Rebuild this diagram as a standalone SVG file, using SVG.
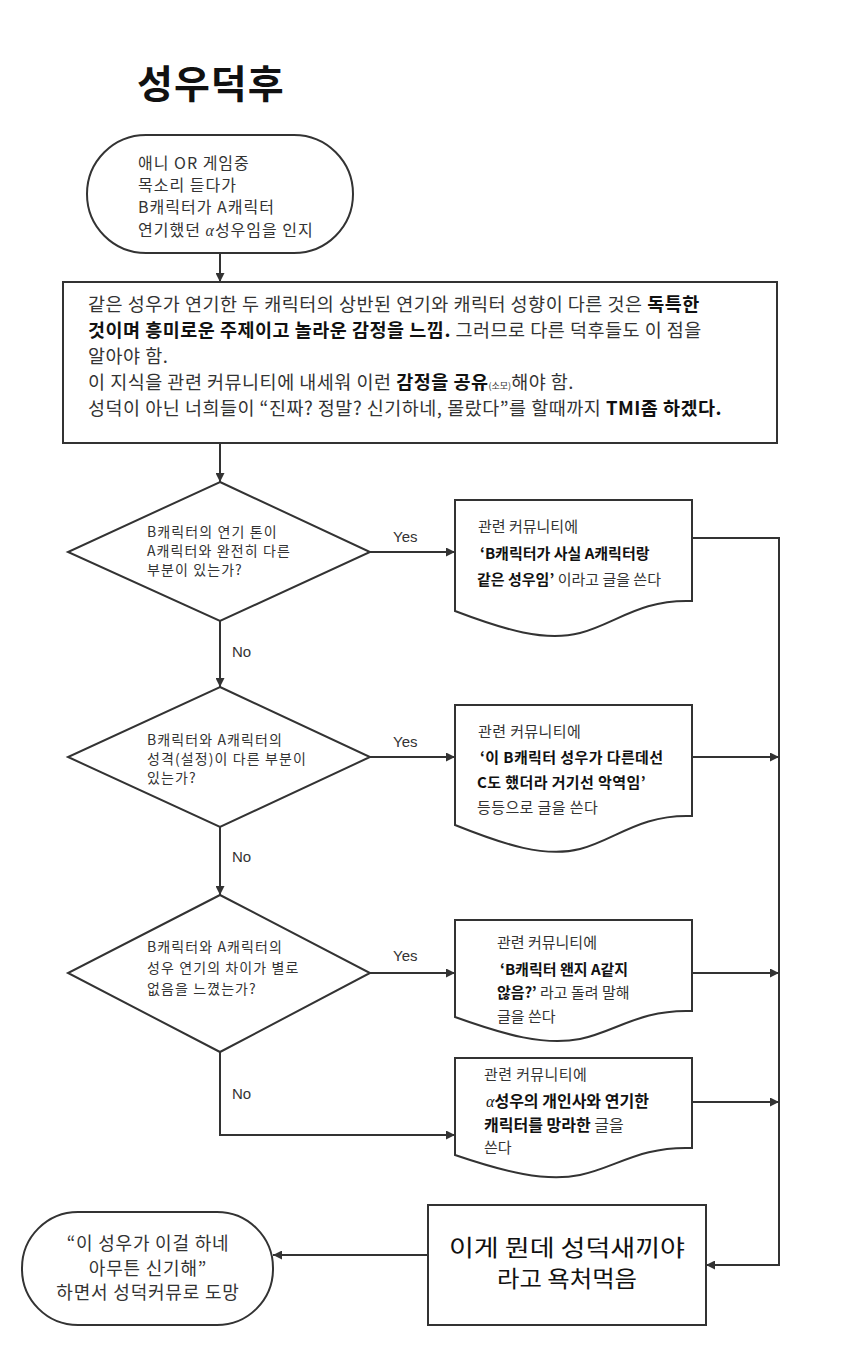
<svg xmlns="http://www.w3.org/2000/svg" width="850" height="1360" viewBox="0 0 850 1360">
<defs>
<marker id="ah" viewBox="0 0 10 10" refX="10" refY="5" markerWidth="9" markerHeight="9" markerUnits="userSpaceOnUse" orient="auto">
<path d="M0,0 L10,5 L0,10 Z" fill="#333"/>
</marker>
<style>
.shape{fill:#fff;stroke:#333;stroke-width:2}
.conn{fill:none;stroke:#333;stroke-width:2;marker-end:url(#ah)}
text{font-family:"Noto Sans CJK KR","Noto Sans",sans-serif;fill:#333}
.t16{font-size:16px;letter-spacing:1px}
.t18{font-size:18.5px;letter-spacing:0.5px}
.t14{font-size:14px;letter-spacing:1.1px}
.t15{font-size:15px}
.t16d{font-size:16px}
.lbl{font-size:15px;font-family:"Liberation Sans","Noto Sans CJK KR",sans-serif}
.b{font-weight:bold;fill:#111}
.alpha{font-family:"Liberation Serif",serif;font-style:italic}
.fin{font-size:22.5px;fill:#111}
.endt{font-size:18px;letter-spacing:0.8px}
</style>
</defs>
<rect width="850" height="1360" fill="#fff"/>

<g id="title">
<text x="137" y="98" style="font-size:39px;font-weight:bold;fill:#111;letter-spacing:1px">성우덕후</text>
</g>

<g id="connectors">
<path class="conn" d="M220,254 V282"/>
<path class="conn" d="M220,443 V482"/>
<path class="conn" d="M370,552 H455"/>
<path class="conn" d="M220,620 V687"/>
<path class="conn" d="M370,757 H455"/>
<path class="conn" d="M220,827 V895"/>
<path class="conn" d="M370,973 H455"/>
<path class="conn" d="M220,1052 V1135 H455"/>
<path class="conn" d="M692,538 H779 V1265 H706"/>
<path class="conn" d="M692,757 H779"/>
<path class="conn" d="M692,973 H779"/>
<path class="conn" d="M692,1102 H779"/>
<path class="conn" d="M428,1255 H273"/>
<text class="lbl" x="393" y="542">Yes</text>
<text class="lbl" x="232" y="657">No</text>
<text class="lbl" x="393" y="747">Yes</text>
<text class="lbl" x="232" y="862">No</text>
<text class="lbl" x="393" y="961">Yes</text>
<text class="lbl" x="232" y="1099">No</text>
</g>

<g id="start">
<rect class="shape" x="87" y="135" width="266" height="118" rx="59" ry="59"/>
<text class="t16" x="138" y="169">애니 OR 게임중</text>
<text class="t16" x="138" y="191">목소리 듣다가</text>
<text class="t16" x="138" y="213">B캐릭터가 A캐릭터</text>
<text class="t16" x="138" y="236">연기했던 <tspan class="alpha">α</tspan>성우임을 인지</text>
</g>

<g id="process">
<rect class="shape" x="63" y="282" width="714" height="161"/>
<text class="t18" x="88" y="311">같은 성우가 연기한 두 캐릭터의 상반된 연기와 캐릭터 성향이 다른 것은 <tspan class="b">독특한</tspan></text>
<text class="t18" x="88" y="337"><tspan class="b">것이며 흥미로운 주제이고 놀라운 감정을 느낌.</tspan> 그러므로 다른 덕후들도 이 점을</text>
<text class="t18" x="88" y="363">알아야 함.</text>
<text class="t18" x="88" y="389">이 지식을 관련 커뮤니티에 내세워 이런 <tspan class="b">감정을 공유</tspan><tspan style="font-size:9px;letter-spacing:0">(소모)</tspan>해야 함.</text>
<text class="t18" x="88" y="415">성덕이 아닌 너희들이 “진짜? 정말? 신기하네, 몰랐다”를 할때까지 <tspan class="b">TMI좀 하겠다.</tspan></text>
</g>

<g id="decision1">
<polygon class="shape" points="220,482 370,552 220,621 68,552"/>
<text class="t14" x="147" y="537">B캐릭터의 연기 톤이</text>
<text class="t14" x="147" y="556">A캐릭터와 완전히 다른</text>
<text class="t14" x="147" y="575">부분이 있는가?</text>
</g>

<g id="doc1">
<path class="shape" d="M455,500 H692 V601 C640,599 615,624 580,633 C545,642 505,630 455,611 Z"/>
<text class="t15" x="478" y="532">관련 커뮤니티에</text>
<text class="t15 b" x="480" y="559">‘B캐릭터가 사실 A캐릭터랑</text>
<text class="t15" x="477" y="585"><tspan class="b">같은 성우임’</tspan>   이라고 글을 쓴다</text>
</g>

<g id="decision2">
<polygon class="shape" points="220,687 370,757 220,827 68,757"/>
<text class="t14" x="147" y="745">B캐릭터와 A캐릭터의</text>
<text class="t14" x="147" y="764">성격(설정)이 다른 부분이</text>
<text class="t14" x="147" y="783">있는가?</text>
</g>

<g id="doc2">
<path class="shape" d="M455,705 H692 V816 C640,814 615,840 580,849 C545,858 505,845 455,825 Z"/>
<text class="t15" x="478" y="737" style="letter-spacing:0.4px">관련 커뮤니티에</text>
<text class="t15 b" x="480" y="763" style="letter-spacing:0.4px">‘이 B캐릭터 성우가 다른데선</text>
<text class="t15 b" x="477" y="788" style="letter-spacing:0.4px">C도 했더라 거기선 악역임’</text>
<text class="t15" x="477" y="813" style="letter-spacing:0.4px">등등으로 글을 쓴다</text>
</g>

<g id="decision3">
<polygon class="shape" points="220,895 370,973 220,1052 68,973"/>
<text class="t14" x="147" y="952">B캐릭터와 A캐릭터의</text>
<text class="t14" x="147" y="973">성우 연기의 차이가 별로</text>
<text class="t14" x="147" y="994">없음을 느꼈는가?</text>
</g>

<g id="doc3">
<path class="shape" d="M455,920 H692 V1011 C640,1009 615,1032 580,1039 C545,1046 505,1035 455,1017 Z"/>
<text class="t15" x="497" y="948">관련 커뮤니티에</text>
<text class="t15 b" x="500" y="975">‘B캐릭터 왠지 A같지</text>
<text class="t15" x="497" y="998"><tspan class="b">않음?’</tspan>  라고 돌려 말해</text>
<text class="t15" x="497" y="1022">글을 쓴다</text>
</g>

<g id="doc4">
<path class="shape" d="M455,1058 H692 V1148 C640,1146 615,1168 580,1175 C545,1182 505,1172 455,1155 Z"/>
<text class="t15" x="484" y="1080" style="letter-spacing:0.4px">관련 커뮤니티에</text>
<text class="t16d b" x="486" y="1107"><tspan class="alpha" style="font-weight:normal">α</tspan>성우의 개인사와 연기한</text>
<text class="t16d" x="484" y="1131"><tspan class="b">캐릭터를 망라한</tspan> 글을</text>
<text class="t15" x="484" y="1153">쓴다</text>
</g>

<g id="final">
<rect class="shape" x="428" y="1205" width="278" height="120"/>
<text class="fin" x="567" y="1256" text-anchor="middle" textLength="236" lengthAdjust="spacingAndGlyphs">이게 뭔데 성덕새끼야</text>
<text class="fin" x="567" y="1287" text-anchor="middle" textLength="140" lengthAdjust="spacingAndGlyphs">라고 욕처먹음</text>
</g>

<g id="end">
<rect class="shape" x="22" y="1212" width="251" height="113" rx="56" ry="56"/>
<text class="endt" x="148" y="1250" text-anchor="middle">“이 성우가 이걸 하네</text>
<text class="endt" x="148" y="1274.5" text-anchor="middle">아무튼 신기해”</text>
<text class="endt" x="148" y="1299" text-anchor="middle">하면서 성덕커뮤로 도망</text>
</g>
</svg>
